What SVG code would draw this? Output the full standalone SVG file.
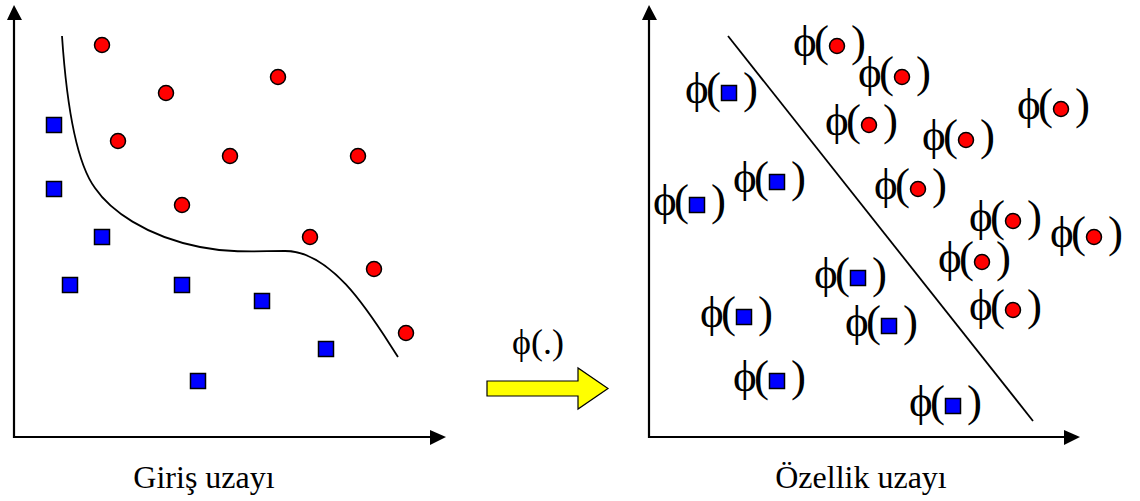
<svg xmlns="http://www.w3.org/2000/svg" width="1140" height="501" viewBox="0 0 1140 501">
<defs>
<style>
.ax{stroke:#000;stroke-width:2.2;fill:none}
.ah{fill:#000;stroke:none}
.sep{stroke:#000;stroke-width:1.8;fill:none}
.c{fill:#ff0000;stroke:#000;stroke-width:1.5}
.s{fill:#0000ff;stroke:#000;stroke-width:1.5}
.t{font-family:"Liberation Serif","Times New Roman",serif;fill:#000}
.phi{font-size:45px}
.cap{font-size:32px}
.map{font-size:36px}
</style>
<circle id="dot" r="7.5" class="c"/>
<rect id="sq" x="-7.5" y="-7.5" width="15" height="15" class="s"/>
</defs>
<rect width="1140" height="501" fill="#fff"/>

<g id="connectors">
  <g id="left-axes">
    <polyline class="ax" points="14,16 14,437 434,437"/>
    <polygon class="ah" points="14,5 7,20 22,20"/>
    <polygon class="ah" points="446,437 430,430 430,445"/>
  </g>
  <g id="right-axes">
    <polyline class="ax" points="649,16 649,437 1068,437"/>
    <polygon class="ah" points="649,5 642,20 657,20"/>
    <polygon class="ah" points="1080,437 1064,430 1064,445"/>
  </g>
  <path id="boundary-curve" class="sep" d="M62,36 C67,110 78,165 95,188 C110,210 145,236 200,247 C230,253 255,251 285,251 C335,251 375,322 398,357"/>
  <line id="boundary-line" class="sep" x1="728" y1="36" x2="1033" y2="421"/>
  <g id="map-arrow">
    <polygon points="487,381 578,381 578,368 608,388.5 578,409 578,396 487,396" fill="#ffff00" stroke="#000" stroke-width="1.2"/>
  </g>
</g>

<g id="left-points">
  <g id="lc1"><use href="#dot" x="102" y="45"/></g>
  <g id="lc2"><use href="#dot" x="278" y="77"/></g>
  <g id="lc3"><use href="#dot" x="166" y="93"/></g>
  <g id="lc4"><use href="#dot" x="118" y="141"/></g>
  <g id="lc5"><use href="#dot" x="230" y="156"/></g>
  <g id="lc6"><use href="#dot" x="358" y="156"/></g>
  <g id="lc7"><use href="#dot" x="182" y="205"/></g>
  <g id="lc8"><use href="#dot" x="310" y="237"/></g>
  <g id="lc9"><use href="#dot" x="374" y="269"/></g>
  <g id="lc10"><use href="#dot" x="406" y="333"/></g>
  <g id="ls1"><use href="#sq" x="54" y="125"/></g>
  <g id="ls2"><use href="#sq" x="54" y="189"/></g>
  <g id="ls3"><use href="#sq" x="102" y="237"/></g>
  <g id="ls4"><use href="#sq" x="70" y="285"/></g>
  <g id="ls5"><use href="#sq" x="182" y="285"/></g>
  <g id="ls6"><use href="#sq" x="262" y="301"/></g>
  <g id="ls7"><use href="#sq" x="326" y="349"/></g>
  <g id="ls8"><use href="#sq" x="198" y="381"/></g>
</g>

<g id="right-points" class="t phi">
  <g id="rc1"><text x="793" y="56" textLength="36" lengthAdjust="spacing">ϕ(</text><use href="#dot" x="837" y="46"/><text x="851" y="56">)</text></g>
  <g id="rc2"><text x="858" y="87" textLength="36" lengthAdjust="spacing">ϕ(</text><use href="#dot" x="902" y="77"/><text x="916" y="87">)</text></g>
  <g id="rc3"><text x="825" y="135" textLength="36" lengthAdjust="spacing">ϕ(</text><use href="#dot" x="869" y="125"/><text x="883" y="135">)</text></g>
  <g id="rc4"><text x="922" y="150" textLength="36" lengthAdjust="spacing">ϕ(</text><use href="#dot" x="966" y="140"/><text x="980" y="150">)</text></g>
  <g id="rc5"><text x="1017" y="119" textLength="36" lengthAdjust="spacing">ϕ(</text><use href="#dot" x="1061" y="109"/><text x="1075" y="119">)</text></g>
  <g id="rc6"><text x="874" y="199" textLength="36" lengthAdjust="spacing">ϕ(</text><use href="#dot" x="918" y="189"/><text x="932" y="199">)</text></g>
  <g id="rc7"><text x="969" y="231" textLength="36" lengthAdjust="spacing">ϕ(</text><use href="#dot" x="1013" y="221"/><text x="1027" y="231">)</text></g>
  <g id="rc8"><text x="1050" y="247" textLength="36" lengthAdjust="spacing">ϕ(</text><use href="#dot" x="1094" y="237"/><text x="1108" y="247">)</text></g>
  <g id="rc9"><text x="938" y="272" textLength="36" lengthAdjust="spacing">ϕ(</text><use href="#dot" x="982" y="262"/><text x="996" y="272">)</text></g>
  <g id="rc10"><text x="969" y="320" textLength="36" lengthAdjust="spacing">ϕ(</text><use href="#dot" x="1013" y="310"/><text x="1027" y="320">)</text></g>
  <g id="rs1"><text x="685" y="103" textLength="36" lengthAdjust="spacing">ϕ(</text><use href="#sq" x="729" y="93"/><text x="743" y="103">)</text></g>
  <g id="rs2"><text x="733" y="192" textLength="36" lengthAdjust="spacing">ϕ(</text><use href="#sq" x="777" y="182"/><text x="791" y="192">)</text></g>
  <g id="rs3"><text x="653" y="215" textLength="36" lengthAdjust="spacing">ϕ(</text><use href="#sq" x="697" y="205"/><text x="711" y="215">)</text></g>
  <g id="rs4"><text x="814" y="288" textLength="36" lengthAdjust="spacing">ϕ(</text><use href="#sq" x="858" y="278"/><text x="872" y="288">)</text></g>
  <g id="rs5"><text x="700" y="327" textLength="36" lengthAdjust="spacing">ϕ(</text><use href="#sq" x="744" y="317"/><text x="758" y="327">)</text></g>
  <g id="rs6"><text x="845" y="336" textLength="36" lengthAdjust="spacing">ϕ(</text><use href="#sq" x="889" y="326"/><text x="903" y="336">)</text></g>
  <g id="rs7"><text x="733" y="391" textLength="36" lengthAdjust="spacing">ϕ(</text><use href="#sq" x="777" y="381"/><text x="791" y="391">)</text></g>
  <g id="rs8"><text x="909" y="416" textLength="36" lengthAdjust="spacing">ϕ(</text><use href="#sq" x="953" y="406"/><text x="967" y="416">)</text></g>
</g>

<g id="labels" class="t">
  <text class="map" x="512" y="354">ϕ(.)</text>
  <text class="cap" x="204" y="488" text-anchor="middle">Giriş uzayı</text>
  <text class="cap" x="861" y="488" text-anchor="middle">Özellik uzayı</text>
</g>
</svg>
